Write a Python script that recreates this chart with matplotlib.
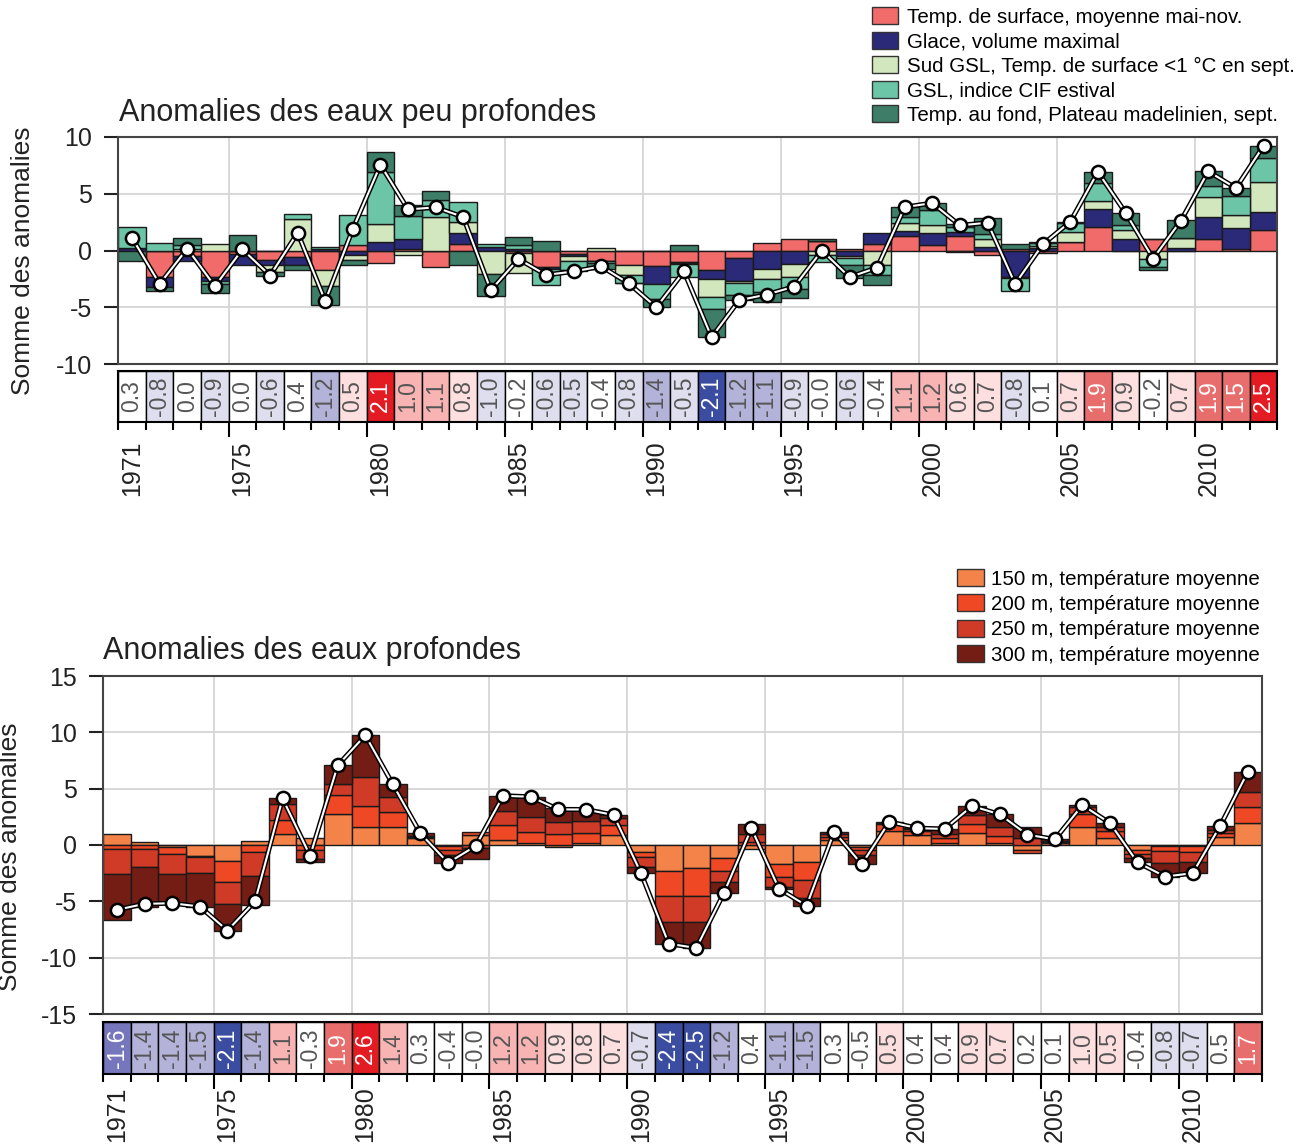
import numpy as np
import matplotlib
matplotlib.use('Agg')
import matplotlib.pyplot as plt
import matplotlib.patches as mpatches

plt.rcParams['font.family'] = ['Liberation Sans', 'DejaVu Sans']
plt.rcParams['axes.unicode_minus'] = False

years = np.arange(1971, 2013)
label_years = [1971, 1975, 1980, 1985, 1990, 1995, 2000, 2005, 2010]

# --- eaux peu profondes (5 composantes) ---
sst = [0.0, -2.35, -0.5, -2.35, -0.35, -0.88, -0.6, -1.75, 0.5, -1.1,
       0.15, -1.45, 0.6, 0.0, -0.2, -1.45, -0.35, -0.9, -1.3, -1.38,
       -1.03, -1.7, -0.68, 0.68, 1.03, 0.8, 0.1, 0.6, 1.32, 0.5,
       1.24, -0.38, 0.15, -0.2, 0.74, 2.06, 0.0, 1.03, -0.05, 0.97,
       0.15, 1.82]
ice = [0.2, -0.9, -0.45, -0.35, -0.9, -0.38, -0.65, 0.1, -0.4, 0.75,
       0.85, 0.0, 0.95, 0.3, 0.15, -0.15, -0.1, -0.05, 0.0, -1.56,
       -0.05, -0.85, -2.05, -1.62, -1.18, 0.0, -0.5, 0.97, 0.38, 1.06,
       0.38, 0.3, -2.3, 0.24, 0.0, 1.56, 1.03, 0.0, 0.24, 1.97,
       1.82, 1.56]
cold_sst = [0.0, 0.0, 0.15, 0.6, 0.0, -0.6, 2.8, -1.4, -0.4, 1.55,
            -0.38, 2.95, 0.95, -2.05, -1.75, 0.0, -0.5, 0.2, -0.9, 0.0,
            -0.1, -1.56, -0.15, -0.88, -1.18, -0.38, -0.2, -1.32, 0.74, 0.65,
            -0.15, 0.68, -0.15, 0.2, 0.88, 0.74, 0.74, -0.79, 0.85, 1.76,
            1.2, 2.65]
cil = [1.85, 0.65, 0.35, -0.25, 0.0, 0.0, 0.45, 0.25, 2.65, 4.65,
       2.05, 1.5, 1.75, 0.25, 0.3, -1.4, -0.8, -0.15, -0.65, -1.32,
       -1.17, -1.03, -1.0, -1.12, -1.03, -0.6, -0.55, -0.88, 0.5, 1.32,
       0.44, 0.5, -1.08, 0.24, 0.82, 1.62, 0.5, -0.65, 0.0, 0.97,
       1.59, 2.12]
bottom_mag = [-0.95, -0.35, 0.62, -0.8, 1.35, -0.35, -0.45, -1.65, -0.45, 1.7,
              0.95, 0.8, -1.3, -2.0, 0.75, 0.85, -0.1, -0.5, -0.05, -0.74,
              0.5, -2.5, -0.5, -0.94, -0.82, 0.18, -1.2, -0.88, 0.88, 0.65,
              0.3, 1.35, 0.44, 0.05, 0.1, 0.94, 1.06, -0.3, 1.56, 1.3,
              0.74, 1.06]
shallow_mean = [0.3, -0.8, 0.0, -0.9, 0.0, -0.6, 0.4, -1.2, 0.5, 2.1,
                1.0, 1.1, 0.8, -0.96, -0.2, -0.6, -0.5, -0.4, -0.8, -1.4,
                -0.5, -2.1, -1.2, -1.1, -0.9, -0.04, -0.6, -0.4, 1.1, 1.2,
                0.6, 0.7, -0.8, 0.1, 0.7, 1.9, 0.9, -0.2, 0.7, 1.9,
                1.5, 2.5]
shallow_labels = ['Temp. de surface, moyenne mai-nov.',
                  'Glace, volume maximal',
                  'Sud GSL, Temp. de surface <1 °C en sept.',
                  'GSL, indice CIF estival',
                  'Temp. au fond, Plateau madelinien, sept.']
shallow_colors = ['#F26B6B', '#2A2A78', '#D2E7BD', '#6CC5A6', '#3E7E68']

# --- eaux profondes (4 composantes) ---
t150 = [0.94, 0.3, -0.2, -0.94, -1.39, 0.35, 0.94, 0.59, 2.71, 1.62,
        1.56, 0.65, -0.1, 0.88, 0.44, 0.15, -0.15, 0.15, 0.88, -0.6,
        -2.3, -2.06, -1.12, -0.38, -1.71, -1.47, 0.44, -0.15, 1.22, 0.88,
        0.2, 1.03, 0.2, -0.44, 0.15, 1.62, 0.6, -0.44, -0.1, -0.09,
        0.74, 1.92]
t200 = [-0.38, -0.38, -0.6, -0.15, -1.92, -0.65, 1.27, -0.45, 1.71, 1.86,
        1.33, 0.1, -0.3, 0.3, 1.33, 0.97, 0.94, 0.88, 0.88, -0.44,
        -2.27, -2.45, -1.18, 0.3, -1.15, -1.68, 0.3, -0.3, 0.6, 0.38,
        0.38, 0.83, 0.6, -0.24, 0.12, 1.12, 0.6, -0.35, -0.4, -0.5,
        0.3, 1.42]
t250 = [-2.18, -1.6, -1.77, -1.42, -1.92, -2.06, 1.39, -0.8, 1.03, 2.57,
        1.33, 0.08, -0.5, -0.3, 1.27, 1.39, 1.12, 1.12, 0.6, -0.88,
        -2.27, -2.33, -0.94, 0.65, -0.83, -1.56, 0.24, -0.44, 0.12, 0.12,
        0.38, 0.8, 0.83, 0.6, 0.1, 0.65, 0.44, -0.38, -1.06, -0.88,
        0.3, 1.39]
t300 = [-4.13, -3.54, -2.6, -2.95, -2.36, -2.65, 0.53, -0.3, 1.62, 3.69,
        1.15, 0.2, -0.68, -0.97, 1.33, 1.77, 1.25, 1.0, 0.3, -0.6,
        -1.92, -2.3, -1.03, 0.9, -0.2, -0.68, 0.2, -0.82, 0.12, 0.12,
        0.46, 0.8, 1.09, 1.0, 0.13, 0.15, 0.3, -0.38, -1.24, -1.03,
        0.38, 1.77]
deep_mean = [-1.6, -1.4, -1.4, -1.47, -2.1, -1.4, 1.1, -0.3, 1.9, 2.6,
             1.4, 0.3, -0.4, -0.04, 1.2, 1.2, 0.9, 0.8, 0.7, -0.7,
             -2.4, -2.5, -1.2, 0.4, -1.1, -1.47, 0.3, -0.47, 0.5, 0.4,
             0.4, 0.9, 0.7, 0.2, 0.1, 0.97, 0.5, -0.4, -0.8, -0.7,
             0.47, 1.7]
deep_labels = ['150 m, température moyenne', '200 m, température moyenne',
               '250 m, température moyenne', '300 m, température moyenne']
deep_colors = ['#F4834A', '#EE4824', '#CF3B27', '#731D15']

W, H = 1307, 1145


def box(l, t, r, b):
    return [l / W, 1 - b / H, (r - l) / W, (b - t) / H]


def cell_color(v):
    if v >= 2.0:
        return '#E31B23'
    elif v >= 1.5:
        return '#E86E6E'
    elif v >= 1.0:
        return '#F8B3B3'
    elif v >= 0.5:
        return '#FDDFDF'
    elif v > -0.5:
        return 'white'
    elif v > -1.0:
        return '#DFDEEF'
    elif v > -1.5:
        return '#B3B3DA'
    elif v > -2.0:
        return '#7676BC'
    return '#3A4DA0'


def stacked_panel(ax, comps, colors, ylim, step):
    pos = np.zeros(len(years))
    neg = np.zeros(len(years))
    for vals, c in zip(comps, colors):
        vals = np.asarray(vals)
        base = np.where(vals >= 0, pos, neg)
        ax.bar(years, vals, width=1.0, bottom=base, color=c,
               edgecolor='#1a1a1a', linewidth=1.0, zorder=2)
        pos = pos + np.clip(vals, 0, None)
        neg = neg + np.clip(vals, None, 0)
    total = pos + neg
    ax.plot(years, total, color='black', lw=3.6, zorder=3)
    ax.plot(years, total, color='white', lw=1.5, marker='o', ms=9.5,
            mfc='white', mec='black', mew=1.8, zorder=4)

    ax.set_xlim(1970.5, 2012.5)
    ax.set_ylim(*ylim)
    ax.set_yticks(np.arange(ylim[0], ylim[1] + 1, step))
    ax.set_xticks(np.arange(1974.5, 2012, 5))
    ax.tick_params(axis='x', length=0, labelbottom=False)
    ax.tick_params(axis='y', length=10, width=1.5, pad=9, labelsize=18,
                   colors='#222222')
    ax.grid(True, color='#d6d6d6', lw=1.3)
    ax.set_axisbelow(True)
    for s in ax.spines.values():
        s.set_color('#444444')
        s.set_linewidth(1.5)


def cell_row(cax, means, year_pad):
    cax.bar(years, 1, width=1.0, bottom=0,
            color=[cell_color(v) for v in means],
            edgecolor='black', linewidth=1.0)
    for yr, v in zip(years, means):
        tc = 'white' if abs(v) >= 1.5 else '#555555'
        cax.text(yr, 0.5, '{:.1f}'.format(v), rotation=90, ha='center',
                 va='center', fontsize=16.5, color=tc)
    cax.set_xlim(1970.5, 2012.5)
    cax.set_ylim(0, 1)
    cax.set_yticks([])
    cax.set_xticks(np.arange(1974.5, 2012, 5))
    cax.set_xticks(np.arange(1970.5, 2013, 1), minor=True)
    cax.tick_params(axis='x', which='major', length=11, width=1.5,
                    labelbottom=False)
    cax.tick_params(axis='x', which='minor', length=5.8, width=1.5)
    for s in cax.spines.values():
        s.set_color('black')
        s.set_linewidth(1.5)
    for yr in label_years:
        cax.annotate(str(yr), xy=(yr, 0), xycoords=('data', 'axes fraction'),
                     xytext=(0, -year_pad), textcoords='offset points',
                     rotation=90, ha='center', va='top', fontsize=18,
                     color='#222222')


fig = plt.figure(figsize=(W / 100, H / 100), dpi=100)

ax1 = fig.add_axes(box(118.3, 137, 1277.3, 364))
cax1 = fig.add_axes(box(118.3, 371, 1277.3, 422))
ax2 = fig.add_axes(box(103.3, 676, 1261.7, 1014))
cax2 = fig.add_axes(box(103.3, 1022, 1261.7, 1074))

stacked_panel(ax1, [sst, ice, cold_sst, cil, bottom_mag], shallow_colors, (-10, 10), 5)
stacked_panel(ax2, [t150, t200, t250, t300], deep_colors, (-15, 15), 5)
cell_row(cax1, shallow_mean, 13)
cell_row(cax2, deep_mean, 9)

fig.text(119 / W, 1 - 121 / H, 'Anomalies des eaux peu profondes',
         fontsize=22, va='baseline', ha='left', color='#222222')
fig.text(103 / W, 1 - 659 / H, 'Anomalies des eaux profondes',
         fontsize=22, va='baseline', ha='left', color='#222222')
fig.text(23 / W, 1 - 261 / H, 'Somme des anomalies', rotation=90,
         fontsize=19, ha='center', va='center', color='#222222')
fig.text(10 / W, 1 - 857 / H, 'Somme des anomalies', rotation=90,
         fontsize=19, ha='center', va='center', color='#222222')

h1 = [mpatches.Patch(facecolor=c, edgecolor='#333333', lw=1) for c in shallow_colors]
fig.legend(h1, shallow_labels, loc='upper left',
           bbox_to_anchor=(872 / W, 1 - 7 / H), frameon=False, fontsize=14.8,
           handlelength=1.25, handleheight=0.9, handletextpad=0.45,
           labelspacing=0.24, borderpad=0, borderaxespad=0)
h2 = [mpatches.Patch(facecolor=c, edgecolor='#333333', lw=1) for c in deep_colors]
fig.legend(h2, deep_labels, loc='upper left',
           bbox_to_anchor=(957 / W, 1 - 569 / H), frameon=False, fontsize=14.8,
           handlelength=1.3, handleheight=0.9, handletextpad=0.35,
           labelspacing=0.28, borderpad=0, borderaxespad=0)

fig.savefig('out.png', dpi=100)
